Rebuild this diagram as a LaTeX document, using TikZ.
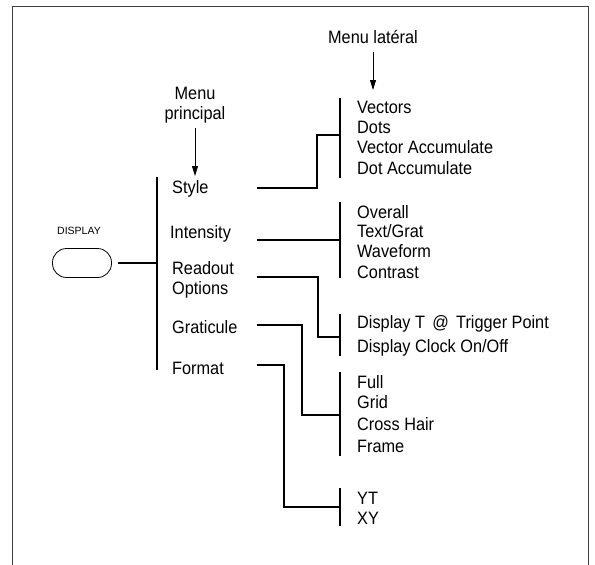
\documentclass[tikz,border=0pt]{standalone}
\usepackage{fontspec}
\setmainfont{Liberation Sans}
\usetikzlibrary{arrows.meta}
\newcommand{\stretchtxt}[1]{\scalebox{1.0}[1.1]{#1}}
\begin{document}
\begin{tikzpicture}[x=1pt,y=-1pt,
  lbl/.style={inner sep=0pt, anchor=base west, font=\fontsize{16.3}{20}\selectfont},
  clbl/.style={inner sep=0pt, anchor=base, font=\fontsize{16.3}{20}\selectfont},
  bar/.style={line width=2.6pt},
  conn/.style={line width=2.3pt, line join=miter},
  ptr/.style={line width=0.8pt, -{Triangle[length=10pt,width=6pt]}},
  frameline/.style={line width=0.9pt, black!75}]
\useasboundingbox (0,0) rectangle (595,565);
% frame
\coordinate (f1) at (12,565);
\coordinate (f2) at (12,6);
\coordinate (f3) at (588,6);
\coordinate (f4) at (588,565);
\draw[frameline] (f1) -- (f2) -- (f3) -- (f4);

% headings
\node[clbl] (lat) at (373,43) {\stretchtxt{Menu latéral}};
\coordinate (latA) at (373,52);
\coordinate (latB) at (373,90);
\draw[ptr] (latA) -- (latB);
\node[clbl] (men1) at (195,99) {\stretchtxt{Menu}};
\node[clbl] (men2) at (195,119) {\stretchtxt{principal}};
\coordinate (prA) at (195,128);
\coordinate (prB) at (195,176);
\draw[ptr] (prA) -- (prB);

% DISPLAY button
\node[inner sep=0pt, font=\fontsize{10.5}{12}\selectfont] (dlab) at (79,231) {DISPLAY};
\node[draw, line width=0.8pt, rounded corners=14pt, minimum width=59pt, minimum height=29pt, inner sep=0pt] (btn) at (82,263) {};
\coordinate (btnO) at (118,263);
\coordinate (mj) at (157,263);
\draw[conn] (btnO) -- (mj);

% main menu bar
\coordinate (mt) at (157,177);
\coordinate (mb) at (157,370);
\draw[bar] (mt) -- (mb);
\node[lbl] (sty) at (172,193) {\stretchtxt{Style}};
\node[lbl] (int) at (170,238) {\stretchtxt{Intensity}};
\node[lbl] (rd1) at (172,274) {\stretchtxt{Readout}};
\node[lbl] (rd2) at (172,294) {\stretchtxt{Options}};
\node[lbl] (gra) at (172,333) {\stretchtxt{Graticule}};
\node[lbl] (fmt) at (172,374) {\stretchtxt{Format}};

% side bars
\coordinate (b1t) at (340,98);  \coordinate (b1b) at (340,178);
\coordinate (b2t) at (340,202); \coordinate (b2b) at (340,278);
\coordinate (b3t) at (340,314); \coordinate (b3b) at (340,356);
\coordinate (b4t) at (340,372); \coordinate (b4b) at (340,456);
\coordinate (b5t) at (340,488); \coordinate (b5b) at (340,526);
\draw[bar] (b1t) -- (b1b);
\draw[bar] (b2t) -- (b2b);
\draw[bar] (b3t) -- (b3b);
\draw[bar] (b4t) -- (b4b);
\draw[bar] (b5t) -- (b5b);

% side texts
\node[lbl] (s11) at (357,113) {\stretchtxt{Vectors}};
\node[lbl] (s12) at (357,133) {\stretchtxt{Dots}};
\node[lbl] (s13) at (357,153) {\stretchtxt{Vector Accumulate}};
\node[lbl] (s14) at (357,174) {\stretchtxt{Dot Accumulate}};
\node[lbl] (s21) at (357,218) {\stretchtxt{Overall}};
\node[lbl] (s22) at (357,237) {\stretchtxt{Text/Grat}};
\node[lbl] (s23) at (357,257) {\stretchtxt{Waveform}};
\node[lbl] (s24) at (357,278) {\stretchtxt{Contrast}};
\node[lbl] (s31) at (357,328) {\stretchtxt{Display T \,@\, Trigger Point}};
\node[lbl] (s32) at (357,352) {\stretchtxt{Display Clock On/Off}};
\node[lbl] (s41) at (357,388) {\stretchtxt{Full}};
\node[lbl] (s42) at (357,408) {\stretchtxt{Grid}};
\node[lbl] (s43) at (357,430) {\stretchtxt{Cross Hair}};
\node[lbl] (s44) at (357,452) {\stretchtxt{Frame}};
\node[lbl] (s51) at (357,504) {\stretchtxt{YT}};
\node[lbl] (s52) at (357,524) {\stretchtxt{XY}};

% connectors
\coordinate (c1o) at (257,188); \coordinate (c1j) at (340,135);
\coordinate (c2o) at (257,240); \coordinate (c2j) at (340,240);
\coordinate (c3o) at (257,277); \coordinate (c3j) at (340,337);
\coordinate (c4o) at (257,325); \coordinate (c4j) at (340,415);
\coordinate (c5o) at (257,365); \coordinate (c5j) at (340,507);
\draw[conn] (c1o) -- ++(60,0) |- (c1j);
\draw[conn] (c2o) -- (c2j);
\draw[conn] (c3o) -- ++(61,0) |- (c3j);
\draw[conn] (c4o) -- ++(45,0) |- (c4j);
\draw[conn] (c5o) -- ++(27,0) |- (c5j);
\end{tikzpicture}
\end{document}
